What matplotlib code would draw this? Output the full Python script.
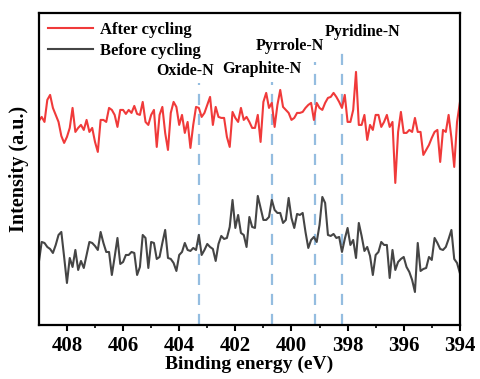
import numpy as np
import matplotlib
matplotlib.use("Agg")
import matplotlib.pyplot as plt

plt.rcParams['font.family'] = ['Liberation Serif', 'DejaVu Serif']
plt.rcParams['font.weight'] = 'bold'

# binding energy scan grid, 0.1 eV steps from 409 down to 394 eV
energy = np.linspace(409.0, 394.0, 151)

after_cycling = [
    209, 213, 208, 230, 235, 222, 215, 208, 194, 187, 193, 202, 222, 198, 202, 205, 200, 210, 198, 202,
    188, 178, 210, 210, 208, 222, 220, 215, 203, 220, 220, 216, 220, 217, 224, 216, 215, 228, 208,
    205, 215, 220, 183, 215, 223, 197, 180, 217, 228, 223, 205, 215, 197, 208, 182, 205, 223, 222, 213,
    217, 225, 233, 205, 223, 213, 212, 212, 193, 183, 218, 212, 208, 222, 210, 213, 208, 202,
    202, 215, 188, 228, 237, 222, 227, 203, 225, 240, 223, 220, 217, 210, 212, 217, 217, 218, 222, 225,
    227, 210, 227, 222, 220, 227, 232, 233, 237, 233, 228, 222, 235, 208, 208, 220, 258, 205, 205,
    215, 190, 205, 200, 215, 215, 203, 208, 215, 203, 208, 147, 198, 218, 197, 197, 200, 198, 212, 198,
    198, 175, 180, 185, 192, 198, 200, 168, 200, 198, 215, 192, 163, 208, 227,
]

before_cycling = [
    68, 88, 87, 83, 81, 77, 85, 95, 98, 73, 47, 72, 63, 80, 60, 69, 62, 75, 88, 87,
    84, 80, 98, 87, 78, 78, 55, 73, 92, 66, 68, 75, 75, 78, 77, 55, 63, 95, 92,
    62, 88, 87, 71, 73, 87, 100, 72, 71, 67, 59, 75, 78, 87, 80, 79, 82, 80, 95, 75,
    80, 86, 83, 81, 69, 86, 94, 91, 92, 103, 130, 102, 115, 97, 95, 83, 113, 103,
    102, 134, 122, 110, 110, 113, 130, 120, 117, 117, 107, 110, 132, 112, 102, 116, 115, 117, 98, 82,
    90, 93, 88, 105, 133, 127, 95, 94, 96, 92, 93, 78, 91, 102, 85, 90, 72, 107, 94,
    79, 83, 74, 55, 75, 78, 88, 85, 85, 52, 80, 60, 68, 71, 73, 63, 58, 50, 38, 87,
    59, 61, 62, 73, 70, 92, 87, 81, 80, 83, 91, 100, 71, 67, 57,
]

peak_names = ['Oxide-N', 'Graphite-N', 'Pyrrole-N', 'Pyridine-N']
peak_pos = [403.3, 400.7, 399.15, 398.2]
line_tops = [247, 248, 268, 285]
label_x = [403.8, 401.05, 400.05, 397.45]
label_y = [259, 261, 284, 298]

fig = plt.figure(figsize=(4.8, 3.79), dpi=100)
ax = fig.add_axes([0.081, 0.1425, 0.877, 0.8235])

ymin, ymax = 5, 317
ax.vlines(peak_pos, ymin, line_tops, colors='#94bde0', linestyles=(0, (5, 4)), linewidth=1.6, zorder=1)
ax.plot(energy, after_cycling, color='#f03a3a', linewidth=1.5, label='After cycling', zorder=2)
ax.plot(energy, before_cycling, color='#454545', linewidth=1.5, label='Before cycling', zorder=2)

for name, x, y in zip(peak_names, label_x, label_y):
    ax.text(x, y, name, ha='center', va='center', fontsize=11.5, fontweight='bold')

ax.set_xlim(409, 394)
ax.set_ylim(ymin, ymax)
ax.set_xticks(np.arange(408, 393, -2))
ax.set_xticks(np.arange(407, 394, -2), minor=True)
ax.set_yticks([])
ax.tick_params(axis='x', which='major', direction='out', length=4, width=1.5, labelsize=15, pad=4)
ax.tick_params(axis='x', which='minor', direction='out', length=2.5, width=1.2)
for lbl in ax.get_xticklabels():
    lbl.set_fontweight('bold')
for sp in ax.spines.values():
    sp.set_linewidth(1.6)

ax.set_xlabel('Binding energy (eV)', fontsize=14, fontweight='bold', labelpad=0)
ax.set_ylabel('Intensity (a.u.)', fontsize=14.5, fontweight='bold', labelpad=7)

ax.legend(loc='upper left', frameon=False, handlelength=2.7,
          borderaxespad=0.25, borderpad=0.3, labelspacing=0.3, handletextpad=0.4,
          prop={'weight': 'bold', 'size': 12})

fig.savefig('out.png', dpi=100)
